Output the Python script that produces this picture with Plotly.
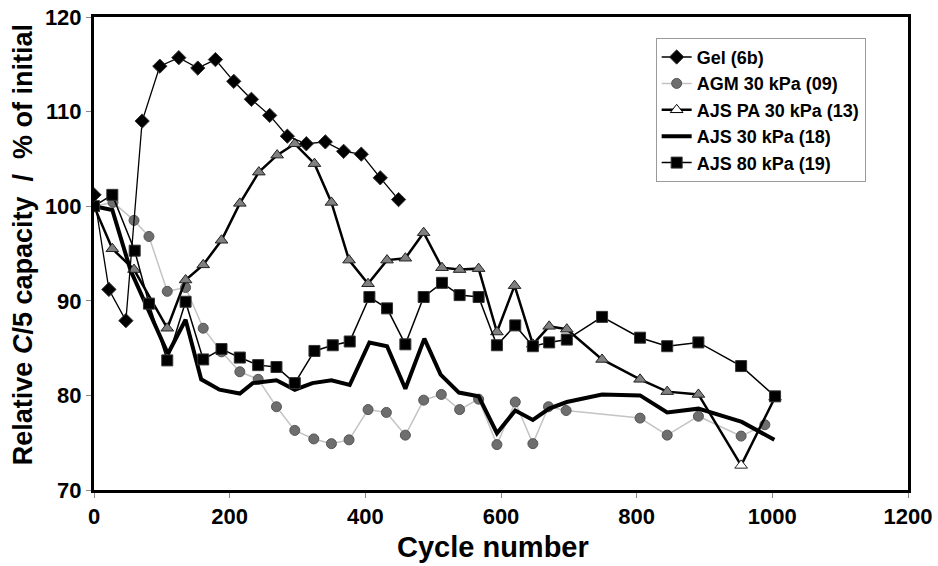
import plotly.graph_objects as go

# ---------------- data ----------------
gel_x = [0, 22, 47, 71, 97, 125, 153, 179, 206, 232, 259, 285, 313, 341, 368, 394, 422, 449]
gel_y = [101.2, 91.2, 87.9, 109.0, 114.8, 115.7, 114.6, 115.5, 113.2, 111.3, 109.6, 107.4, 106.6, 106.8, 105.8, 105.5, 103.0, 100.7]

agm_x = [0, 28, 59, 81, 108, 135, 161, 188, 215, 242, 269, 296, 324, 350, 376, 404, 431, 459, 486, 512,
         539, 567, 594, 621, 647, 670, 696, 805, 845, 891, 954, 989]
agm_y = [100, 100.4, 98.5, 96.8, 91.0, 91.4, 87.1, 84.6, 82.5, 81.7, 78.8, 76.3, 75.4, 74.9, 75.3, 78.5,
         78.2, 75.8, 79.5, 80.1, 78.5, 79.6, 74.8, 79.3, 74.9, 78.8, 78.4, 77.6, 75.8, 77.8, 75.7, 76.9]

pa_x = [0, 27, 59, 108, 135, 161, 188, 215, 243, 270, 296, 325, 350, 376, 404, 432, 459, 486, 513, 539,
        567, 594, 620, 647, 671, 697, 749, 805, 845, 891, 954, 1004]
pa_y = [100, 95.5, 93.3, 87.1, 92.2, 93.8, 96.4, 100.3, 103.6, 105.4, 106.6, 104.5, 100.4, 94.3, 91.8,
        94.3, 94.5, 97.2, 93.5, 93.3, 93.4, 86.7, 91.6, 85.4, 87.3, 87.0, 83.8, 81.7, 80.4, 80.1, 72.6, 79.8]

ajs30_x = [0, 27, 54, 81, 109, 135, 158, 185, 215, 234, 269, 296, 322, 350, 377, 406, 432, 459, 487, 511,
           538, 567, 594, 621, 647, 671, 697, 749, 805, 845, 891, 955, 1003]
ajs30_y = [100, 99.6, 93.2, 88.8, 84.4, 88.0, 81.7, 80.6, 80.2, 81.3, 81.6, 80.6, 81.3, 81.6, 81.1, 85.6,
           85.2, 80.7, 86.0, 82.2, 80.3, 79.9, 76.0, 78.4, 77.4, 78.6, 79.3, 80.1, 80.0, 78.2, 78.6, 77.2, 75.3]

ajs80_x = [0, 27, 60, 81, 108, 135, 161, 188, 215, 242, 269, 296, 325, 352, 377, 406, 432, 459, 486, 513,
           539, 567, 594, 621, 647, 671, 697, 749, 805, 845, 891, 954, 1004]
ajs80_y = [100, 101.2, 95.3, 89.7, 83.7, 89.9, 83.8, 84.9, 84.0, 83.2, 83.0, 81.3, 84.7, 85.3, 85.7, 90.4,
           89.2, 85.4, 90.4, 91.9, 90.6, 90.4, 85.3, 87.4, 85.2, 85.6, 85.9, 88.3, 86.1, 85.2, 85.6, 83.1, 79.9]

names = ["Gel (6b)", "AGM 30 kPa (09)", "AJS PA 30 kPa (13)", "AJS 30 kPa (18)", "AJS 80 kPa (19)"]
x_title = "Cycle number"
y_title = "Relative <i>C</i>/5 capacity  /  % of initial"

FONT = "Liberation Sans, Arial, sans-serif"

fig = go.Figure()

# AGM (drawn first, light grey line)
fig.add_trace(go.Scatter(
    x=agm_x, y=agm_y, mode="lines+markers", name=names[1], legendrank=2,
    line=dict(color="#c4c4c4", width=1.5),
    marker=dict(symbol="circle", size=10, color="#6e6e6e", line=dict(color="#555555", width=1)),
))
# AJS 30 thick line
fig.add_trace(go.Scatter(
    x=ajs30_x, y=ajs30_y, mode="lines", name=names[3], legendrank=4,
    line=dict(color="black", width=4),
))
# AJS PA triangles
pa_colors = ["#808080"] * (len(pa_x) - 2) + ["white", "#808080"]
fig.add_trace(go.Scatter(
    x=pa_x, y=pa_y, mode="lines+markers", name=names[2], showlegend=False,
    line=dict(color="black", width=2.5),
    marker=dict(symbol="triangle-up", size=11, color=pa_colors, line=dict(color="#222222", width=1)),
))
fig.add_trace(go.Scatter(
    x=[None], y=[None], mode="lines+markers", name=names[2], legendrank=3,
    line=dict(color="black", width=2.5),
    marker=dict(symbol="triangle-up", size=11, color="white", line=dict(color="black", width=1)),
))
# AJS 80 squares
fig.add_trace(go.Scatter(
    x=ajs80_x, y=ajs80_y, mode="lines+markers", name=names[4], legendrank=5,
    line=dict(color="black", width=1.5),
    marker=dict(symbol="square", size=11, color="black", line=dict(color="#333333", width=1)),
))
# Gel diamonds
fig.add_trace(go.Scatter(
    x=gel_x, y=gel_y, mode="lines+markers", name=names[0], legendrank=1,
    line=dict(color="black", width=1.3),
    marker=dict(symbol="diamond", size=11, color="black", line=dict(color="#333333", width=1)),
))

fig.update_layout(
    width=938, height=566,
    margin=dict(l=94, r=30, t=17, b=76),
    paper_bgcolor="white", plot_bgcolor="white",
    font=dict(family=FONT, color="black"),
    showlegend=True,
    legend=dict(
        x=0.69, y=0.956, xanchor="left", yanchor="top",
        bgcolor="white", bordercolor="#9a9a9a", borderwidth=1,
        font=dict(family=FONT, size=18, color="black", weight="bold"),
        tracegroupgap=0,
    ),
    annotations=[
        dict(text=x_title, xref="paper", yref="paper", x=0.49, y=-0.121,
             xanchor="center", yanchor="middle", showarrow=False,
             font=dict(family=FONT, size=29, color="black", weight="bold")),
        dict(text=y_title, xref="paper", yref="paper", x=-0.087, y=0.518,
             xanchor="center", yanchor="middle", showarrow=False, textangle=-90,
             font=dict(family=FONT, size=27, color="black", weight="bold")),
    ],
)
fig.update_xaxes(
    range=[0, 1200], tickvals=[0, 200, 400, 600, 800, 1000, 1200],
    showgrid=False, zeroline=False, automargin=False,
    showline=True, linecolor="black", linewidth=3, mirror=True,
    ticks="outside", ticklen=5, tickcolor="#888888", tickwidth=1,
    tickfont=dict(family=FONT, size=22, color="black", weight="bold"),
)
fig.update_yaxes(
    range=[70, 120], tickvals=[70, 80, 90, 100, 110, 120],
    showgrid=False, zeroline=False, automargin=False,
    showline=True, linecolor="black", linewidth=3, mirror=True,
    ticks="outside", ticklen=5, tickcolor="#888888", tickwidth=1,
    tickfont=dict(family=FONT, size=22, color="black", weight="bold"),
)

fig.write_html("out.html")
